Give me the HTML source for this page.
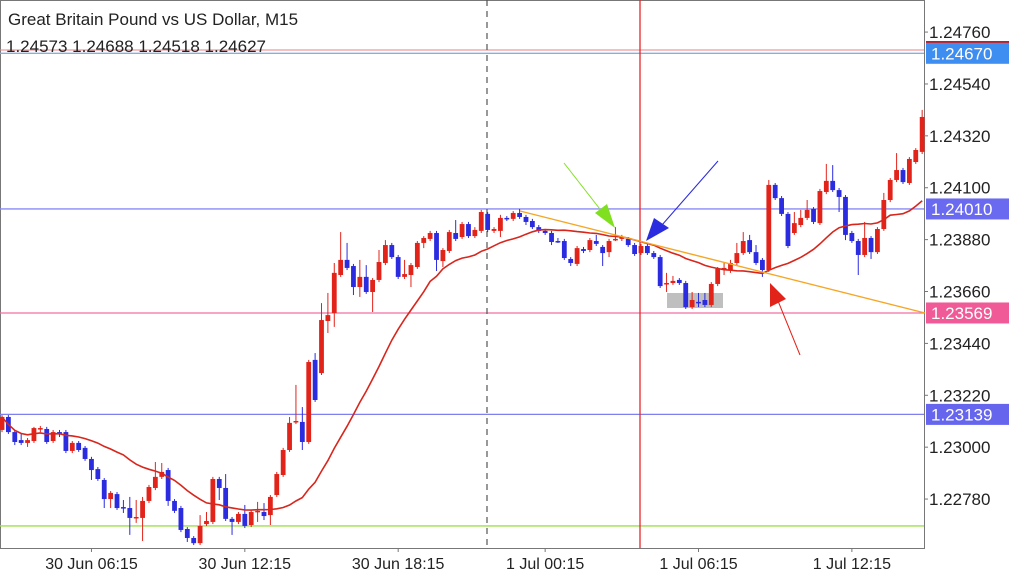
<!DOCTYPE html>
<html><head><meta charset="utf-8"><title>GBPUSD M15</title>
<style>
html,body{margin:0;padding:0;background:#fff;width:1024px;height:576px;overflow:hidden;font-family:"Liberation Sans",sans-serif}
svg{display:block}
</style></head><body>
<svg id="chart" width="1024" height="576" xmlns="http://www.w3.org/2000/svg"></svg>
<script>
const opens=[1.23073,1.23128,1.23064,1.23030,1.23018,1.23026,1.23077,1.23077,1.23026,1.23064,1.23064,1.22984,1.23018,1.22997,1.22950,1.22907,1.22861,1.22780,1.22801,1.22746,1.22742,1.22700,1.22700,1.22772,1.22827,1.22874,1.22903,1.22772,1.22742,1.22653,1.22615,1.22593,1.22674,1.22683,1.22865,1.22827,1.22696,1.22683,1.22717,1.22670,1.22725,1.22725,1.22712,1.22797,1.22882,1.22988,1.23107,1.23107,1.23022,1.23370,1.23314,1.23535,1.23569,1.23730,1.23794,1.23768,1.23679,1.23722,1.23658,1.23709,1.23781,1.23857,1.23806,1.23722,1.23730,1.23764,1.23866,1.23883,1.23908,1.23789,1.23832,1.23908,1.23891,1.23946,1.23895,1.23917,1.23989,1.23917,1.23917,1.23972,1.23968,1.23993,1.23976,1.23959,1.23933,1.23917,1.23908,1.23874,1.23874,1.23798,1.23777,1.23840,1.23836,1.23874,1.23849,1.23827,1.23878,1.23883,1.23883,1.23857,1.23823,1.23853,1.23823,1.23806,1.23692,1.23696,1.23709,1.23696,1.23594,1.23616,1.23624,1.23603,1.23692,1.23756,1.23751,1.23781,1.23823,1.23878,1.23827,1.23794,1.23751,1.24112,1.24056,1.23989,1.23908,1.23942,1.23972,1.24010,1.23950,1.24082,1.24129,1.24090,1.24061,1.23908,1.23874,1.23815,1.23887,1.23827,1.23925,1.24048,1.24133,1.24175,1.24120,1.24209,1.24252];
const highs=[1.23136,1.23136,1.23073,1.23060,1.23039,1.23086,1.23090,1.23086,1.23073,1.23073,1.23073,1.23026,1.23026,1.23005,1.22959,1.22916,1.22869,1.22814,1.22810,1.22776,1.22789,1.22776,1.22789,1.22840,1.22937,1.22933,1.22912,1.22780,1.22751,1.22661,1.22623,1.22712,1.22725,1.22874,1.22874,1.22886,1.22704,1.22725,1.22755,1.22734,1.22768,1.22763,1.22797,1.22895,1.22997,1.23128,1.23264,1.23170,1.23370,1.23399,1.23611,1.23654,1.23781,1.23912,1.23866,1.23777,1.23794,1.23772,1.23717,1.23836,1.23878,1.23866,1.23815,1.23794,1.23781,1.23874,1.23895,1.23917,1.23917,1.23844,1.23921,1.23963,1.23955,1.23955,1.23933,1.24006,1.23997,1.23933,1.23985,1.23980,1.24001,1.24010,1.23985,1.23968,1.23942,1.23925,1.23917,1.23887,1.23883,1.23806,1.23853,1.23849,1.23887,1.23900,1.23857,1.23883,1.23933,1.23900,1.23891,1.23866,1.23862,1.23862,1.23832,1.23815,1.23739,1.23726,1.23717,1.23705,1.23658,1.23654,1.23654,1.23700,1.23764,1.23781,1.23794,1.23866,1.23912,1.23900,1.23857,1.23802,1.24133,1.24120,1.24065,1.23997,1.23997,1.24006,1.24048,1.24018,1.24095,1.24201,1.24196,1.24099,1.24069,1.23917,1.23883,1.23955,1.23895,1.23933,1.24078,1.24141,1.24247,1.24184,1.24230,1.24268,1.24430];
const lows=[1.23064,1.23056,1.23009,1.23009,1.23001,1.23018,1.23064,1.23014,1.23018,1.23043,1.22975,1.22975,1.22980,1.22942,1.22861,1.22857,1.22742,1.22742,1.22734,1.22721,1.22628,1.22679,1.22602,1.22763,1.22818,1.22865,1.22751,1.22721,1.22640,1.22598,1.22585,1.22585,1.22666,1.22674,1.22776,1.22687,1.22628,1.22674,1.22657,1.22661,1.22683,1.22691,1.22670,1.22789,1.22874,1.22980,1.23098,1.22988,1.23014,1.23192,1.23306,1.23484,1.23510,1.23722,1.23751,1.23645,1.23637,1.23650,1.23573,1.23700,1.23772,1.23798,1.23713,1.23713,1.23679,1.23756,1.23844,1.23874,1.23747,1.23764,1.23823,1.23874,1.23883,1.23887,1.23887,1.23908,1.23912,1.23908,1.23891,1.23959,1.23959,1.23968,1.23942,1.23925,1.23908,1.23900,1.23857,1.23866,1.23794,1.23768,1.23768,1.23823,1.23827,1.23853,1.23768,1.23806,1.23874,1.23874,1.23849,1.23811,1.23815,1.23815,1.23798,1.23675,1.23658,1.23688,1.23688,1.23586,1.23586,1.23594,1.23594,1.23594,1.23683,1.23730,1.23739,1.23772,1.23815,1.23819,1.23772,1.23722,1.23743,1.24048,1.23980,1.23844,1.23900,1.23933,1.23963,1.23946,1.23942,1.24073,1.24082,1.23997,1.23878,1.23866,1.23730,1.23806,1.23798,1.23819,1.23917,1.24039,1.24124,1.24116,1.24112,1.24201,1.24243];
const closes=[1.23128,1.23064,1.23022,1.23018,1.23030,1.23081,1.23081,1.23022,1.23064,1.23060,1.22984,1.23018,1.22988,1.22950,1.22903,1.22865,1.22780,1.22806,1.22742,1.22742,1.22700,1.22704,1.22772,1.22831,1.22874,1.22895,1.22772,1.22730,1.22649,1.22615,1.22593,1.22666,1.22687,1.22865,1.22827,1.22696,1.22683,1.22717,1.22666,1.22725,1.22730,1.22708,1.22789,1.22886,1.22988,1.23103,1.23111,1.23022,1.23361,1.23200,1.23539,1.23560,1.23739,1.23794,1.23760,1.23679,1.23722,1.23658,1.23709,1.23785,1.23857,1.23806,1.23722,1.23734,1.23772,1.23866,1.23887,1.23908,1.23794,1.23836,1.23912,1.23883,1.23946,1.23895,1.23921,1.23997,1.23921,1.23925,1.23972,1.23968,1.23993,1.23976,1.23955,1.23933,1.23917,1.23908,1.23870,1.23870,1.23802,1.23781,1.23844,1.23832,1.23878,1.23862,1.23823,1.23874,1.23883,1.23891,1.23857,1.23819,1.23853,1.23823,1.23806,1.23683,1.23696,1.23705,1.23696,1.23594,1.23624,1.23611,1.23603,1.23692,1.23756,1.23760,1.23781,1.23823,1.23874,1.23827,1.23781,1.23751,1.24112,1.24056,1.23989,1.23853,1.23950,1.23972,1.24006,1.23955,1.24086,1.24129,1.24090,1.24061,1.23900,1.23874,1.23815,1.23887,1.23827,1.23925,1.24048,1.24133,1.24175,1.24124,1.24222,1.24260,1.24400];
const priceTicks=[1.24760,1.24540,1.24320,1.24100,1.23880,1.23660,1.23440,1.23220,1.23000,1.22780];
const timeLabels=["30 Jun 06:15","30 Jun 12:15","30 Jun 18:15","1 Jul 00:15","1 Jul 06:15","1 Jul 12:15"];
const timeLabelIdx=[14,38,62,85,109,133];
const levelPrices=[1.24670,1.24010,1.23569,1.23139,1.22666];
const levelLabels=["1.24670","1.24010","1.23569","1.23139",""];
const maPeriod=20;

const NS="http://www.w3.org/2000/svg";
const svg=document.getElementById('chart');
const PL=0,PR=924,PB=548;
function yOf(p){return (1.24896-p)/0.0000424;}
function xOf(i){return 2+i*6.39;}
function el(t,a,parent){const e=document.createElementNS(NS,t);for(const k in a)e.setAttribute(k,a[k]);(parent||svg).appendChild(e);return e;}

let f=el('rect',{x:0.5,y:0.5,width:PR,height:PB,fill:'none',stroke:'#777','stroke-width':1});



const lvlColors=['#7fb0e8','#8a8af5','#f06fa0','#7f7ff0','#9ee04a'];
levelPrices.forEach((p,k)=>{
  const y=yOf(p);
  const l=el('line',{x1:0,x2:PR,y1:y,y2:y,stroke:lvlColors[k],'stroke-width':1.3});
  
  
});
let rl=el('line',{x1:0,x2:PR,y1:50,y2:50,stroke:'#e88080','stroke-width':1});



let vd=el('line',{x1:487,x2:487,y1:0,y2:PB,stroke:'#555','stroke-width':1.2,'stroke-dasharray':'6,5'});


let vr=el('line',{x1:640,x2:640,y1:0,y2:PB,stroke:'#e8262a','stroke-width':1.3});



let gz=el('rect',{x:667,y:293,width:56,height:15,fill:'#aaaaaa','fill-opacity':0.75});



for(let i=0;i<opens.length;i++){
  const x=xOf(i),up=closes[i]>=opens[i],c=up?'#e2231a':'#2b2be0';
  const g=el('g',{});
  
  
  el('line',{x1:x,x2:x,y1:yOf(highs[i]),y2:yOf(lows[i]),stroke:c,'stroke-width':1},g);
  const yt=yOf(Math.max(opens[i],closes[i])),yb=yOf(Math.min(opens[i],closes[i]));
  el('rect',{x:x-2.4,y:yt,width:4.8,height:Math.max(1.5,yb-yt),fill:c},g);
}

let pts=[];
for(let i=0;i<closes.length;i++){
  const s=Math.max(0,i-maPeriod+1);let sum=0;
  for(let j=s;j<=i;j++)sum+=closes[j];
  pts.push(xOf(i).toFixed(1)+','+yOf(sum/(i-s+1)).toFixed(1));
}
let ma=el('polyline',{points:pts.join(' '),fill:'none',stroke:'#d8261c','stroke-width':1.6});



let tl=el('line',{x1:520,y1:211,x2:925,y2:313,stroke:'#f5a623','stroke-width':1.4});



function arrow(name,c,x1,y1,x2,y2,tri){
  const g=el('g',{});
  
  
  el('line',{x1,y1,x2,y2,stroke:c,'stroke-width':1},g);
  el('polygon',{points:tri,fill:c},g);
}
arrow('green-arrow','#80e020',564,163,610,222,'595,213 607,204 615,228');
arrow('blue-arrow','#2b2be0',718,161,655,233,'646,241 654,218 669,228');
arrow('red-arrow','#e2231a',800,355,776,296,'770,283 770,307 786,299');

priceTicks.forEach((p,k)=>{
  const y=yOf(p);
  el('line',{x1:PR,x2:PR+4,y1:y,y2:y,stroke:'#777'});
  const t=el('text',{x:929,y:y+6,'font-size':17,fill:'#222'});
  t.textContent=p.toFixed(5);
  
  
});
let topbar=el('rect',{x:926,y:41,width:83,height:3,fill:'#d01818'});


const boxColors=['#3d8ef0','#6a6af0','#f05a96','#6565ee'];
levelPrices.forEach((p,k)=>{
  if(!levelLabels[k])return;
  const y=yOf(p);
  const r=el('rect',{x:926,y:y-10.5,width:83,height:21,fill:boxColors[k]});
  
  
  const t=el('text',{x:931,y:y+6,'font-size':17,fill:'#fff'});
  t.textContent=levelLabels[k];
  
  
});

timeLabels.forEach((s,k)=>{
  const x=xOf(timeLabelIdx[k]);
  el('line',{x1:x,x2:x,y1:PB,y2:PB+4,stroke:'#777'});
  const t=el('text',{x:x,y:569,'font-size':16,fill:'#222','text-anchor':'middle'});
  t.textContent=s;
  
  
});

let t1=el('text',{x:8,y:25,'font-size':17,fill:'#222'});
t1.textContent='Great Britain Pound vs US Dollar, M15';


let t2=el('text',{x:6,y:52,'font-size':17,fill:'#222'});
t2.textContent='1.24573 1.24688 1.24518 1.24627';


</script>
</body></html>
